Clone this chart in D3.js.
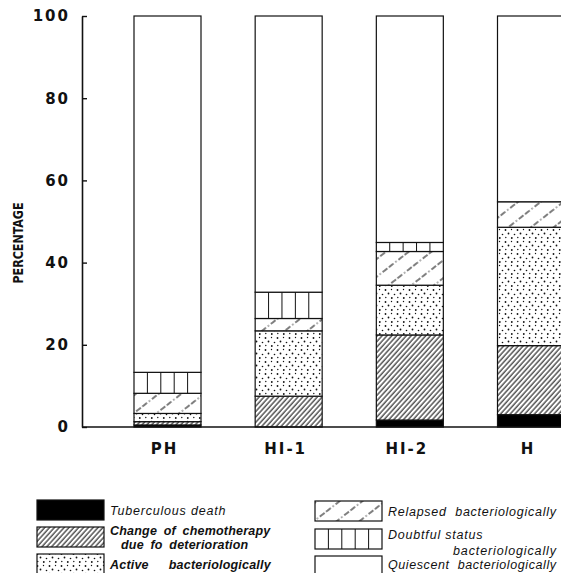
<!DOCTYPE html>
<html>
<head>
<meta charset="utf-8">
<script src="https://cdn.jsdelivr.net/npm/d3@7"></script>
<style>
  body { margin: 0; background: #fff; }
  svg { display: block; }
  .tick text, .grp { font-family: "DejaVu Sans", sans-serif; font-weight: bold; fill: #111; }
  .leg { font-family: "Liberation Sans", Arial, sans-serif; font-style: italic; fill: #111; font-size: 12.5px; }
  .leg.b { font-weight: bold; font-size: 12.5px; }
</style>
</head>
<body>
<script>
// groups along the x axis
const groups = ["PH", "HI-1", "HI-2", "H"];
// stacked series, bottom to top (percent of patients)
const death     = [0.5, 0.0, 1.7, 3.0];
const change    = [0.8, 7.5, 20.7, 16.8];
const active    = [2.0, 15.9, 12.1, 28.8];
const relapsed  = [4.9, 3.0, 8.2, 6.2];
const doubtful  = [5.1, 6.4, 2.2, 0.0];
const quiescent = [86.7, 67.2, 55.1, 45.2];
const yTicks = [0, 20, 40, 60, 80, 100];

const seriesKeys = ["death", "change", "active", "relapsed", "doubtful", "quiescent"];
const seriesVals = [death, change, active, relapsed, doubtful, quiescent];
const fills = ["#000", "url(#hatch)", "url(#dots)", "url(#relapse)", "#fff", "#fff"];

const W = 561, H = 573;
const svg = d3.select("body").append("svg").attr("width", W).attr("height", H);

// ---- patterns
const defs = svg.append("defs");
let p = defs.append("pattern").attr("id", "hatch").attr("patternUnits", "userSpaceOnUse")
    .attr("width", 3.6).attr("height", 10).attr("patternTransform", "rotate(42)");
p.append("rect").attr("width", 3.6).attr("height", 10).attr("fill", "#fff");
p.append("line").attr("x1", 1).attr("x2", 1).attr("y1", 0).attr("y2", 10).attr("stroke", "#000").attr("stroke-width", 1);

p = defs.append("pattern").attr("id", "relapse").attr("patternUnits", "userSpaceOnUse")
    .attr("width", 14).attr("height", 20).attr("patternTransform", "rotate(52)");
p.append("rect").attr("width", 14).attr("height", 20).attr("fill", "#fff");
p.append("line").attr("x1", 2).attr("x2", 2).attr("y1", 0).attr("y2", 20).attr("stroke", "#000")
    .attr("stroke-width", 1).attr("stroke-dasharray", "6,2.5,1.2,2.5");

p = defs.append("pattern").attr("id", "dots").attr("patternUnits", "userSpaceOnUse")
    .attr("width", 12).attr("height", 12);
p.append("rect").attr("width", 12).attr("height", 12).attr("fill", "#fff");
[[1.5, 2, 0.9], [7.5, 1.5, 0.7], [4.5, 5.5, 0.9], [10.5, 6.5, 0.8], [1.8, 9.5, 0.7], [7.8, 10, 0.9]]
  .forEach(d => p.append("circle").attr("cx", d[0]).attr("cy", d[1]).attr("r", d[2]).attr("fill", "#111"));

// ---- scales
const y = d3.scaleLinear().domain([0, 100]).range([427, 16]);
const x = d3.scalePoint().domain(groups).range([167.5, 531]);
const barW = 67;

// stacked data
const rows = groups.map((g, i) => {
  const r = { group: g };
  seriesKeys.forEach((k, j) => r[k] = seriesVals[j][i]);
  return r;
});
const stack = d3.stack().keys(seriesKeys)(rows);

// ---- bars
const layer = svg.append("g").selectAll("g").data(stack).enter().append("g")
    .attr("fill", (d, i) => fills[i]);
layer.selectAll("rect").data(d => d.map(s => ({ s: s, key: d.key }))).enter().append("rect")
    .attr("x", d => x(d.s.data.group) - barW / 2)
    .attr("y", d => y(d.s[1]))
    .attr("width", barW)
    .attr("height", d => y(d.s[0]) - y(d.s[1]))
    .attr("stroke", "#111")
    .attr("stroke-width", d => (d.s[1] - d.s[0]) > 0 ? 1.2 : 0);

// vertical dividers for "doubtful" cells
const dIdx = seriesKeys.indexOf("doubtful");
stack[dIdx].forEach(s => {
  if (s[1] - s[0] <= 0) return;
  const x0 = x(s.data.group) - barW / 2;
  for (let k = 1; k < 5; k++) {
    svg.append("line").attr("x1", x0 + barW * k / 5).attr("x2", x0 + barW * k / 5)
      .attr("y1", y(s[0])).attr("y2", y(s[1])).attr("stroke", "#111").attr("stroke-width", 1);
  }
});

// ---- axis
const axis = svg.append("g").attr("transform", "translate(82,0)")
    .call(d3.axisLeft(y).tickValues(yTicks).tickSizeInner(-5).tickSizeOuter(0).tickPadding(12));
axis.select(".domain").attr("stroke", "#111").attr("stroke-width", 1.6);
axis.selectAll(".tick line").attr("stroke", "#111").attr("stroke-width", 1.4);
axis.selectAll(".tick text").style("font-size", "15px").attr("letter-spacing", "2px");

svg.append("line").attr("x1", 82).attr("x2", W).attr("y1", y(0)).attr("y2", y(0))
    .attr("stroke", "#111").attr("stroke-width", 1.3);

svg.append("text").attr("transform", "translate(23,243) rotate(-90)")
    .attr("text-anchor", "middle").attr("textLength", 81).attr("lengthAdjust", "spacingAndGlyphs")
    .style("font-family", "'DejaVu Sans Condensed', 'DejaVu Sans', sans-serif")
    .style("font-weight", "bold").style("font-size", "14px").style("fill", "#111")
    .text("PERCENTAGE");

svg.selectAll(".grp").data(groups).enter().append("text").attr("class", "grp")
    .attr("x", d => x(d) - 3).attr("y", 454).attr("text-anchor", "middle")
    .attr("letter-spacing", "2px").style("font-size", "15px")
    .text(d => d);

// ---- legend  [text, dx, dy, length]
const legendItems = [
  { fill: "#000", lines: [["Tuberculous death", 0, 0, 0]], bold: false, dividers: false },
  { fill: "url(#hatch)", lines: [["Change of chemotherapy", 0, 0, 0], ["due fo deterioration", 11, 14, 0]], bold: true, dividers: false },
  { fill: "url(#dots)", lines: [["Active   bacteriologically", 0, 0, 0]], bold: true, dividers: false },
  { fill: "url(#relapse)", lines: [["Relapsed  bacteriologically", 0, 0, 168]], bold: false, dividers: false },
  { fill: "#fff", lines: [["Doubtful status", 0, 0, 0], ["bacteriologically", 65, 16, 103]], bold: false, dividers: true },
  { fill: "#fff", lines: [["Quiescent  bacteriologically", 0, 0, 168]], bold: false, dividers: false }
];
const legPos = [[37, 500], [37, 527], [37, 554], [315, 501], [315, 529], [315, 556]];
const textY = [515, 535, 569, 516, 539, 569];

legendItems.forEach((it, i) => {
  const lx = legPos[i][0], ly = legPos[i][1];
  svg.append("rect").attr("x", lx).attr("y", ly).attr("width", barW).attr("height", 20)
    .attr("fill", it.fill).attr("stroke", "#111").attr("stroke-width", 1.2);
  if (it.dividers) {
    for (let k = 1; k < 5; k++) {
      svg.append("line").attr("x1", lx + barW * k / 5).attr("x2", lx + barW * k / 5)
        .attr("y1", ly).attr("y2", ly + 20).attr("stroke", "#111").attr("stroke-width", 1);
    }
  }
  it.lines.forEach(l => {
    const t = svg.append("text").attr("class", "leg" + (it.bold ? " b" : ""))
      .attr("x", lx + barW + 6 + l[1]).attr("y", textY[i] + l[2])
      .attr("letter-spacing", it.bold ? "0.2px" : "0.8px")
      .attr("word-spacing", it.bold ? "3px" : "0px")
      .style("white-space", "pre")
      .text(l[0]);
    if (l[3]) t.attr("letter-spacing", null).attr("textLength", l[3]).attr("lengthAdjust", "spacing");
  });
});
</script>
</body>
</html>
